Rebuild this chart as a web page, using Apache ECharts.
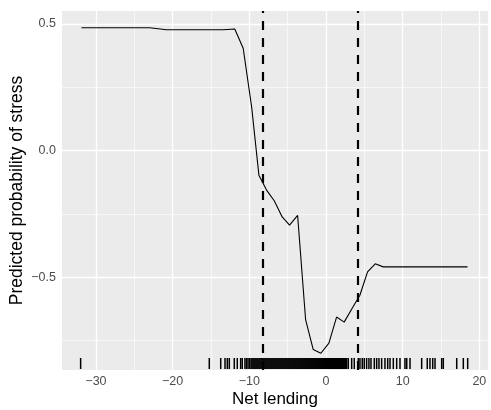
<!DOCTYPE html>
<html>
<head>
<meta charset="utf-8">
<script src="https://cdn.jsdelivr.net/npm/echarts@6/dist/echarts.min.js"></script>
<style>html,body{margin:0;padding:0;background:#fff}#c{width:491px;height:410px}</style>
</head>
<body>
<div id="c"></div>
<script>
// Partial dependence curve: [net lending, predicted probability]
const curveX = [-31.9, -23.0, -20.8, -13.4, -11.9, -10.8, -9.7, -8.75, -7.75, -6.75, -5.71, -4.75, -3.7, -2.66, -1.67, -0.67, 0.38, 1.38, 2.37, 3.38, 4.42, 5.42, 6.42, 7.46, 18.46];
const curveY = [0.485, 0.485, 0.477, 0.477, 0.480, 0.404, 0.173, -0.097, -0.156, -0.198, -0.262, -0.294, -0.256, -0.667, -0.785, -0.800, -0.760, -0.657, -0.677, -0.624, -0.571, -0.479, -0.447, -0.459, -0.459];
// Threshold lines
const thresholds = [-8.31, 4.17];
// Rug of observations
const rugX = [-32.0, -15.22, -13.73, -13.17, -12.87, -12.61, -11.96, -11.57, -11.13, -10.92,
  -10.57, -10.37, -10.17, -9.98, -9.78,
  -9.65, -9.52, -9.39, -9.26, -9.13, -9.00, -8.87, -8.74, -8.61, -8.48, -8.35, -8.22, -8.09, -7.96, -7.83, -7.70, -7.57, -7.44, -7.31, -7.18, -7.05, -6.92, -6.79, -6.66, -6.53, -6.40, -6.27, -6.14, -6.01, -5.88, -5.75, -5.62, -5.49, -5.36, -5.23, -5.10, -4.97, -4.84, -4.71, -4.58, -4.45, -4.32, -4.19, -4.06, -3.93, -3.80, -3.67, -3.54, -3.41, -3.28, -3.15, -3.02, -2.89, -2.76, -2.63, -2.50, -2.37, -2.24, -2.11, -1.98, -1.85, -1.72, -1.59, -1.46, -1.33, -1.20, -1.07, -0.94, -0.81, -0.68, -0.55, -0.42, -0.29, -0.16, -0.03, 0.10, 0.23, 0.36, 0.49, 0.62, 0.75, 0.88, 1.01, 1.14, 1.27, 1.40, 1.53, 1.66, 1.79, 1.92, 2.05, 2.18, 2.31, 2.44, 2.57, 2.70,
  2.91, 3.35, 3.69, 4.21, 4.43, 4.73, 4.99, 5.30, 5.60, 5.87, 6.30, 6.61, 6.91, 7.26, 7.69, 8.05, 8.35, 8.78, 9.22, 9.65, 10.30, 10.53, 10.96, 12.48, 13.21, 13.56, 13.92, 14.22, 15.09, 15.30, 17.05, 17.91, 18.48];
// Axis ticks / grid
const xTicks = [-30, -20, -10, 0, 10, 20];
const xMinor = [-25, -15, -5, 5, 15];
const yTicks = [-0.5, 0, 0.5];
const yMinor = [-0.75, -0.25, 0.25];
const xRange = [-34.43, 21.13];
const yRange = [-0.866, 0.551];

const minus = s => String(s).replace('-', '\u2212');
const FONT = 'Liberation Sans';

const chart = echarts.init(document.getElementById('c'), null, {renderer: 'canvas'});
const gridLines = []
  .concat(xMinor.map(v => ({xAxis: v, lineStyle: {width: 0.6}})))
  .concat(yMinor.map(v => ({yAxis: v, lineStyle: {width: 0.6}})))
  .concat(xTicks.map(v => ({xAxis: v, lineStyle: {width: 1.3}})))
  .concat(yTicks.map(v => ({yAxis: v, lineStyle: {width: 1.3}})));

chart.setOption({
  animation: false,
  backgroundColor: '#ffffff',
  grid: {left: 62, right: 3, top: 11, bottom: 40, show: true, backgroundColor: '#EBEBEB', borderWidth: 0,
    containLabel: false, outerBoundsMode: 'none'},
  xAxis: {
    type: 'value', min: xRange[0], max: xRange[1],
    name: 'Net lending', nameLocation: 'middle', nameGap: 21, nameMoveOverlap: false,
    nameTextStyle: {fontFamily: FONT, fontSize: 17, color: '#000'},
    axisLine: {show: false},
    axisTick: {show: true, length: 3.5, customValues: xTicks, lineStyle: {color: '#333', width: 1}},
    axisLabel: {customValues: xTicks, margin: 5, fontFamily: FONT, fontSize: 12.5, color: '#4D4D4D', formatter: v => minus(v)},
    splitLine: {show: false}
  },
  yAxis: {
    type: 'value', min: yRange[0], max: yRange[1],
    name: 'Predicted probability of stress', nameLocation: 'middle', nameGap: 36, nameMoveOverlap: false,
    nameTextStyle: {fontFamily: FONT, fontSize: 17.5, color: '#000'},
    axisLine: {show: false},
    axisTick: {show: true, length: 3.5, customValues: yTicks, lineStyle: {color: '#333', width: 1}},
    axisLabel: {customValues: yTicks, margin: 6, fontFamily: FONT, fontSize: 12.5, color: '#4D4D4D', formatter: v => minus(v.toFixed(1))},
    splitLine: {show: false}
  },
  series: [
    {
      type: 'line', data: [], z: 1, silent: true,
      markLine: {z: 1, silent: true, symbol: 'none', label: {show: false}, animation: false,
        lineStyle: {color: '#ffffff', type: 'solid'}, emphasis: {disabled: true}, data: gridLines}
    },
    {
      type: 'line', z: 3, symbol: 'none', silent: true,
      data: curveX.map((x, i) => [x, curveY[i]]),
      lineStyle: {color: '#000', width: 1.1}
    },
    {
      type: 'line', data: [], z: 4, silent: true,
      markLine: {z: 5, silent: true, symbol: 'none', label: {show: false}, animation: false, emphasis: {disabled: true},
        lineStyle: {color: '#000', width: 2.2, type: [9, 8]},
        data: thresholds.map(v => ({xAxis: v}))}
    },
    {
      type: 'custom', z: 6, silent: true,
      data: rugX.map(x => [x, yRange[0]]),
      encode: {x: 0, y: 1},
      renderItem: (params, api) => {
        const p = api.coord([api.value(0), api.value(1)]);
        return {type: 'line', shape: {x1: p[0], y1: p[1] - 1, x2: p[0], y2: p[1] - 12},
          style: {stroke: '#000', lineWidth: 1.5}};
      }
    }
  ]
});
</script>
</body>
</html>
